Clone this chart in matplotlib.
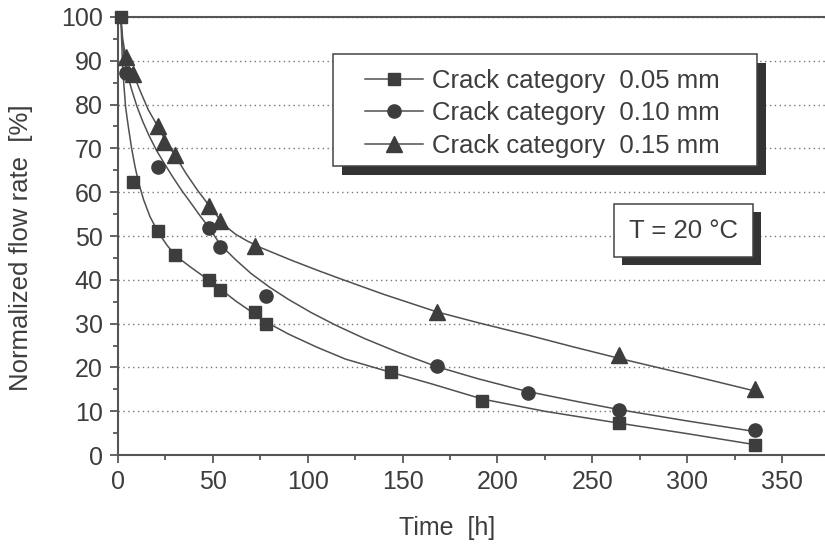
import matplotlib
matplotlib.use("Agg")
import matplotlib.pyplot as plt
from matplotlib.patches import Rectangle
from matplotlib.legend_handler import HandlerTuple

plt.rcParams["font.family"] = ["Liberation Sans", "DejaVu Sans"]

INK = "#3d3d3d"
LINE = "#505050"
FS = 18
FS_BIG = 18.5

# measured points
t_005 = [1.5, 8, 21, 30, 48, 54, 72, 78, 144, 192, 264, 336]
y_005 = [100, 62.4, 51.2, 45.7, 40.0, 37.7, 32.7, 30.0, 19.0, 12.4, 7.4, 2.3]
t_010 = [4, 21, 48, 54, 78, 168, 216, 264, 336]
y_010 = [87.2, 65.8, 51.8, 47.6, 36.3, 20.3, 14.2, 10.3, 5.7]
t_015 = [4, 8, 21, 24, 30, 48, 54, 72, 168, 264, 336]
y_015 = [90.9, 87.0, 75.2, 71.5, 68.6, 56.8, 53.5, 47.7, 32.7, 22.8, 15.0]

# fitted curves
ct_005 = [1.5, 2.5, 4, 5.5, 7.2, 9, 11, 13.5, 16.9, 21, 26, 31, 38, 47, 54,
          62, 70, 78, 90, 105, 120, 143, 165, 192, 225, 264, 300, 337]
cy_005 = [100, 88, 79.5, 74.8, 70.0, 65.8, 62.0, 58.3, 54.4, 51.0, 47.8, 45.3,
          43.0, 40.2, 37.9, 35.2, 32.8, 30.4, 27.6, 24.6, 21.9, 19.0, 16.3,
          12.8, 10.0, 7.3, 4.9, 2.3]
ct_010 = [1.5, 2.5, 4, 5.5, 7.5, 10, 13, 16.5, 20.5, 24.8, 29, 33.6, 38, 42.3,
          48, 54, 62, 70, 80, 90, 102, 115, 130, 148, 168, 190, 215, 240, 264,
          300, 337]
cy_010 = [100, 93.5, 89, 86, 83, 79.6, 76.2, 72.8, 69.4, 66.3, 63.4, 60.4,
          57.8, 55.2, 51.9, 48.0, 44.6, 41.5, 38.3, 35.5, 32.5, 29.6, 26.6,
          23.4, 20.2, 17.4, 14.6, 12.4, 10.4, 7.8, 5.3]
ct_015 = [1.5, 2.5, 4, 6, 9, 12, 16, 21, 24.8, 30.9, 36, 42, 48.5, 54, 58, 62,
          68, 75, 90.7, 105, 118.8, 140, 168, 190, 217, 240, 264, 300, 337]
cy_015 = [100, 95, 91, 88.5, 86, 82.8, 78.8, 75, 72, 67.8, 64.2, 60.4, 56.7,
          53.6, 51.8, 50.4, 48.9, 47.4, 44.6, 42.2, 40.0, 36.7, 32.7, 30.2,
          27.3, 24.7, 22.1, 18.4, 14.5]

labels = ["Crack category  0.05 mm", "Crack category  0.10 mm",
          "Crack category  0.15 mm"]

fig = plt.figure(figsize=(8.25, 5.47), dpi=100)
ax = fig.add_axes([0.143, 0.168, 0.857, 0.801])

series = [
    (t_005, y_005, ct_005, cy_005, "s", 9),
    (t_010, y_010, ct_010, cy_010, "o", 9.5),
    (t_015, y_015, ct_015, cy_015, "^", 11),
]
handles = []
for i, (t, y, ct, cy, mk, ms) in enumerate(series):
    ln, = ax.plot(ct, cy, color=LINE, lw=1.1, zorder=2)
    pts, = ax.plot(t, y, linestyle="none", marker=mk, ms=ms, color=INK,
                   mec=INK, zorder=3 + (3 - i) * 0.1, clip_on=False)
    handles.append((ln, pts))

ax.set_xlim(0, 372.7)
ax.set_ylim(0, 100)
ax.set_xticks(range(0, 351, 50))
ax.set_xticks(range(25, 351, 50), minor=True)
ax.set_yticks(range(0, 101, 10))
ax.set_yticks(range(5, 100, 10), minor=True)
ax.yaxis.grid(True, which="major", linestyle=(0, (1, 2.5)), color="#777777",
              lw=1.0)
ax.set_axisbelow(True)

ax.tick_params(which="both", direction="out", colors="#4a4a4a", width=1.2,
               labelsize=FS, labelcolor=INK, pad=5)
ax.tick_params(which="major", length=6)
ax.tick_params(which="minor", length=3.5)
for side in ("left", "bottom", "top"):
    ax.spines[side].set_color("#555555")
    ax.spines[side].set_linewidth(1.5)
ax.spines["right"].set_visible(False)

ax.set_xlabel("Time  [h]", fontsize=FS, color=INK)
ax.set_ylabel("Normalized flow rate  [%]", fontsize=FS_BIG, color=INK)
ax.xaxis.set_label_coords(0.465, -0.14)
ax.yaxis.set_label_coords(-0.12, 0.473)

# legend box with drop shadow
W, H = 707.0, 438.0
bx, by, bw, bh = 215 / W, 289 / H, 424 / W, 112 / H
sdx, sdy = 9 / W, -9 / H
ax.add_patch(Rectangle((bx + sdx, by + sdy), bw, bh, transform=ax.transAxes,
                       facecolor="#333333", edgecolor="none", zorder=4))
ax.add_patch(Rectangle((bx, by), bw, bh, transform=ax.transAxes,
                       facecolor="white", edgecolor="#444444", lw=1.1,
                       zorder=4.1))
leg = ax.legend(handles, labels,
                handler_map={tuple: HandlerTuple(ndivide=1, pad=0)},
                loc="upper left", bbox_to_anchor=(247 / W, 386 / H),
                frameon=False, fontsize=FS_BIG, borderpad=0, borderaxespad=0,
                handlelength=2.26, handletextpad=0.35, labelspacing=0.33)
leg.set_zorder(5)
for txt in leg.get_texts():
    txt.set_color(INK)

# temperature box with drop shadow
tx, ty, tw, th = 496 / W, 198 / H, 139 / W, 53 / H
tdx, tdy = 8 / W, -8 / H
ax.add_patch(Rectangle((tx + tdx, ty + tdy), tw, th, transform=ax.transAxes,
                       facecolor="#333333", edgecolor="none", zorder=4))
ax.add_patch(Rectangle((tx, ty), tw, th, transform=ax.transAxes,
                       facecolor="white", edgecolor="#444444", lw=1.1,
                       zorder=4.1))
ax.text(tx + tw / 2, ty + th / 2, "T = 20 °C", transform=ax.transAxes,
        ha="center", va="center", fontsize=FS_BIG, color=INK, zorder=5)

fig.savefig("out.png", dpi=100)
